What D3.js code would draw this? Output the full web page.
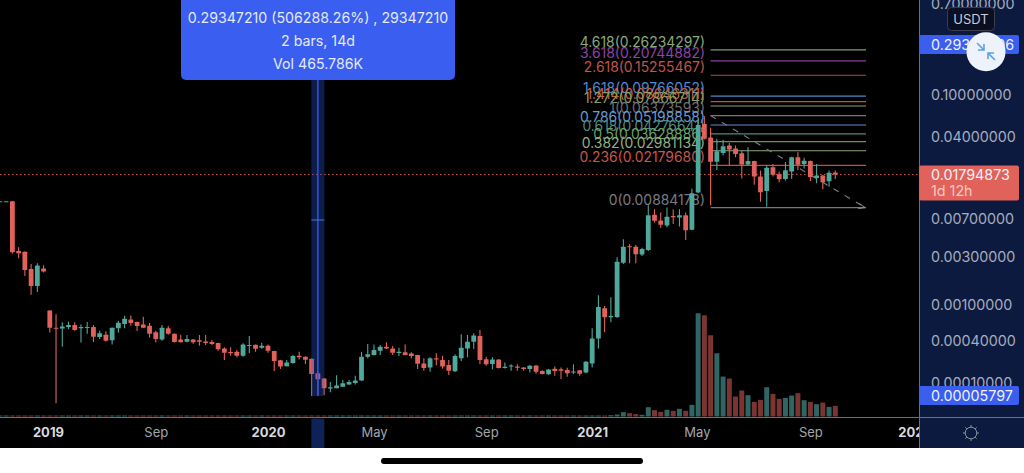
<!DOCTYPE html>
<html><head><meta charset="utf-8">
<style>html,body{margin:0;padding:0;background:#fff;overflow:hidden}svg{display:block}text{font-family:Inter,"Noto Sans",sans-serif}</style>
<script src="https://cdn.jsdelivr.net/npm/d3@7/dist/d3.min.js"></script></head><body>
<svg id="c" width="1024" height="473"></svg>
<script>
// Prices in units of 1e-4 USDT; first candle is bar index -2
const firstBar = -2, priceUnit = 1e-4;
const opens = [101,101,
101,33.9,33.4,22.6,15.4,22.8,8.7,5.6,5.5,5.72,
6.0,5.55,5.6,5.72,4.44,4.7,4.08,5.55,6.17,6.9,
6.5,6.1,5.9,5.0,4.15,5.55,4.8,4.15,3.9,4.15,
4.08,3.95,3.87,3.74,3.13,2.78,2.8,2.46,3.4,3.53,
3.2,3.43,2.87,2.12,1.74,1.93,2.46,2.38,2.23,1.38,
1.16,.78,.79,.845,.93,1.0,1.09,2.38,2.52,2.9,
3.3,3.13,2.69,2.75,2.64,2.52,1.9,1.67,2.26,2.14,
1.81,1.47,2.26,3.13,3.9,4.55,2.19,1.87,2.17,1.64,
1.72,1.72,1.67,1.59,1.78,1.49,1.33,1.6,1.57,1.54,
1.41,1.52,1.41,1.9,4.27,9.2,7.3,7.35,26,37.8,
37.3,31.3,34.7,76,67,59.8,73.7,71.5,75,54.5,
122,530,395,235,284,334,313,282,222,240,
172,126,210,180,163,191,260,225,240,166,
176,155,187];
const closes = [101.3,101.3,
32.9,32.2,22.1,15.4,24.4,21.3,5.62,5.5,5.77,6.02,
5.3,5.7,5.72,4.47,4.87,4.03,5.62,6.37,7.05,6.33,
5.87,5.62,4.8,4.22,5.6,4.8,3.87,3.83,4.22,3.83,
3.9,3.74,3.62,3.05,2.71,2.67,2.46,3.57,3.5,3.1,
3.43,2.9,2.07,1.72,1.96,2.44,2.33,2.16,1.35,1.13,
.79,.825,.89,.985,1.03,1.09,2.38,2.58,2.97,3.3,
3.13,2.71,2.8,2.52,2.44,1.89,1.64,2.26,2.17,1.72,
1.5,2.44,3.2,3.9,4.6,2.14,1.85,2.17,1.64,1.71,
1.78,1.65,1.59,1.76,1.45,1.35,1.56,1.49,1.5,1.38,
1.46,1.36,2.01,4.27,9.5,7.3,7.55,26.7,37.3,37,
31.6,35.5,75,66.5,60.8,72.5,72,75,54,120,
520,385,235,295,328,306,278,222,240,172,
123,207,178,162,196,260,221,241,170,176,
152,186,179.5];
const highs = [101.5,101.5,
101,36.8,33.6,25.3,25.7,24.6,8.75,7.9,6.45,6.55,
6.45,6.1,6.5,6.0,5.2,5.13,5.65,6.7,7.6,7.65,
6.55,7.4,6.33,5.2,6.0,5.87,4.85,4.7,4.67,4.2,
4.67,4.67,4.1,3.78,3.25,3.25,2.97,3.7,4.55,3.55,
3.78,3.57,2.9,2.15,2.14,2.52,2.8,2.42,2.25,1.49,
1.17,1.03,1.29,1.1,1.1,1.27,2.8,3.62,3.57,3.5,
3.83,3.4,3.2,3.57,2.75,2.55,2.26,2.33,2.67,2.46,
2.14,2.58,4.75,4.67,4.87,5.3,2.38,2.33,2.19,1.96,
1.85,1.85,1.68,1.81,1.8,1.52,1.58,1.72,1.67,1.65,
1.85,1.53,2.07,5.53,12.5,9.75,11.9,29.5,44,39.7,
38.8,36.5,93,85.5,79.5,88.5,85,85.5,79.5,132,
580,630,485,385,378,352,334,300,322,241,
195,217,225,191,234,262,289,256,242,225,
177,195,195];
const lows = [100.8,100.8,
32,28.8,19.3,12.6,13.4,20.9,4.98,.397,3.3,5.4,
5.2,3.8,4.8,3.87,4.22,3.95,3.55,4.95,5.55,5.9,
5.17,5.6,4.37,3.8,4.03,4.7,3.8,3.8,3.85,3.65,
3.43,3.5,3.5,2.9,2.14,2.46,2.33,2.38,2.67,2.8,
3.1,2.71,1.49,1.59,1.72,1.89,2.17,1.87,.553,.58,
.58,.655,.785,.835,.91,.93,1.07,2.26,2.47,2.52,
3.07,2.52,2.44,2.5,2.26,1.59,1.5,1.45,1.79,1.6,
1.3,1.44,2.07,2.33,3.07,1.85,1.76,1.57,1.62,1.61,
1.5,1.5,1.5,1.41,1.36,1.33,1.31,1.27,1.14,1.23,
1.35,1.27,1.38,1.67,3.13,5.0,6.45,7.2,25.3,25.8,
25.8,30.4,33.9,64,56.5,57.6,62,58.5,43.4,54,
120,380,93,197,269,217,260,165,217,144,
100,90,172,151,158,163,197,204,156,149,
131,138,163];
// Volume, arbitrary units (early bars barely register)
const volumes = [3,3,
3,3,3,3,3,3,3,3,3,3,
3,3,3,3,3,3,3,3,3,3,
3,3,3,3,3,3,3,3,3,3,
3,3,3,3,3,3,3,3,3,3,
3,3,3,3,3,3,3,3,3,3,
3,3,3,3,3,3,3,3,3,3,
3,3,3,3,3,3,3,3,3,3,
3,3,3,3,3,3,3,3,3,3,
3,3,3,3,3,3,3,3,3,3,
3,3,3,3,3,3,4,6,13,10,
7,5,28,19,14,20,17,23,17,35,
310,304,244,190,120,114,60,78,64,44,
50,88,68,53,56,63,70,49,44,37,
42,29,32];
const selectedBar = 49;
const fibRatios = ["4.618","3.618","2.618","1.618","1.414","1.272","1","0.786","0.618","0.5","0.382","0.236","0"];
const fibPrices = ["0.26234297","0.20744882","0.15255467","0.09766052","0.08646311","0.07866714","0.06373593","0.05198858","0.04276641","0.03628886","0.02981134","0.02179680","0.00884178"];
const fibColors = ["#7f9e72","#8b3fa5","#b8473f","#4f86c9","#b9533f","#8a9f6b","#75777c","#5a90d2","#4b8c7d","#5f9a5e","#88a97a","#c24e47","#75777c"];
const fibLabelColors = ["#8aa87c","#8d45a8","#c4544c","#4f8ad0","#c25e48","#8f9f60","#6d6f75","#6a9ad8","#4e8d80","#6da168","#93b186","#c9564f","#7a7c82"];
const fibStartBar = 112, fibEndBar = 136.8, fibTop = 0.06373593, fibBottom = 0.00884178;
const priceTicks = [0.7,0.1,0.04,0.007,0.003,0.001,0.0004,0.0001];
const currentPrice = 0.01794873, rangeTopPrice = 0.29347206, rangeBottomPrice = 0.00005797;
const timeTickBars = [5.7,23,41,58,76,93,109.8,128,144.7];
const timeTickLabels = ["2019","Sep","2020","May","Sep","2021","May","Sep","2022"];
const boldLabels = ["2019","2020","2021","2022"];

const svg = d3.select("#c");
const plotRight = 919, axisY = 417.5, bottomY = 448;
const x = d3.scaleLinear().domain([0,132]).range([12.4,835.3]);
const y = d3.scaleLog()
  .domain([0.7,0.1,0.04,0.007,0.003,0.001,0.0004,0.0001,0.00005797])
  .range([4,95,137,218.5,256.5,305,341,383,395]);
const v = d3.scaleLinear().domain([0,310]).range([416.5,313.3]);
const RED="#e0625b", GREEN="#50a79b", VRED="#7a3533", VGREEN="#2f6562";

svg.append("rect").attr("width",1024).attr("height",bottomY).attr("fill","#000");
svg.append("rect").attr("x",plotRight).attr("width",1024-plotRight).attr("height",bottomY).attr("fill","#0d1a40");
svg.append("defs").append("clipPath").attr("id","plot").append("rect").attr("width",plotRight).attr("height",bottomY);

const plot = svg.append("g").attr("clip-path","url(#plot)");
const bars = d3.range(opens.length).map(k=>({i:k+firstBar,o:opens[k]*priceUnit,c:closes[k]*priceUnit,h:highs[k]*priceUnit,l:lows[k]*priceUnit,vol:volumes[k]}));

// volume
plot.append("g").selectAll("rect").data(bars).join("rect")
  .attr("x",d=>x(d.i)-2.5).attr("width",5)
  .attr("y",d=>v(d.vol)).attr("height",d=>v(0)-v(d.vol))
  .attr("fill",d=>d.c>=d.o?VGREEN:VRED);

// current price line
plot.append("line").attr("x1",0).attr("x2",plotRight).attr("y1",y(currentPrice)).attr("y2",y(currentPrice))
  .attr("stroke","#c4564f").attr("stroke-width",1).attr("stroke-dasharray","1.5 2.5");

// fib levels
const fib = plot.append("g");
fibRatios.forEach((r,k)=>{
  const py = y(+fibPrices[k]);
  fib.append("line").attr("x1",x(fibStartBar)).attr("x2",866).attr("y1",py).attr("y2",py)
    .attr("stroke",fibColors[k]).attr("stroke-width",1.2);
  fib.append("text").attr("x",705).attr("y",py-8).attr("dy","0.36em").attr("text-anchor","end")
    .attr("font-size",13.9).attr("fill",fibLabelColors[k]).text(`${r}(${fibPrices[k]})`);
});
fib.append("line").attr("x1",x(fibStartBar)).attr("x2",x(fibStartBar)).attr("y1",y(fibTop)+12).attr("y2",y(fibBottom)-3)
  .attr("stroke","#b8473f").attr("stroke-width",1);
fib.append("line").attr("x1",x(fibStartBar)).attr("y1",y(fibTop)).attr("x2",x(fibEndBar)).attr("y2",y(fibBottom))
  .attr("stroke","#7d8087").attr("stroke-width",1.1).attr("stroke-dasharray","6 7");
fib.append("path").attr("d",`M${x(fibEndBar)-6},${y(fibBottom)-4}L${x(fibEndBar)},${y(fibBottom)}L${x(fibEndBar)-7},${y(fibBottom)+1}`)
  .attr("fill","none").attr("stroke","#8c8f96").attr("stroke-width",1);

// candles
const candles = plot.append("g");
candles.selectAll("line").data(bars).join("line")
  .attr("x1",d=>x(d.i)).attr("x2",d=>x(d.i)).attr("y1",d=>y(d.h)).attr("y2",d=>y(d.l))
  .attr("stroke",d=>d.c>=d.o?GREEN:RED).attr("stroke-width",1.1);
candles.selectAll("rect").data(bars).join("rect")
  .attr("x",d=>x(d.i)-2.4).attr("width",4.8)
  .attr("y",d=>Math.min(y(d.o),y(d.c))).attr("height",d=>Math.max(1,Math.abs(y(d.o)-y(d.c))))
  .attr("rx",0.5)
  .attr("fill",d=>d.c>=d.o?GREEN:RED);

// selected range column
const hx = x(selectedBar);
svg.append("rect").attr("x",hx-6.5).attr("width",13).attr("y",80).attr("height",y(rangeBottomPrice)+1-80).attr("fill","rgba(38,88,225,0.34)");
svg.append("rect").attr("x",hx-6.5).attr("width",13).attr("y",axisY+1).attr("height",bottomY-axisY-1).attr("fill","#0e2257");
svg.append("line").attr("x1",hx).attr("x2",hx).attr("y1",80).attr("y2",y(rangeBottomPrice)+1).attr("stroke","#2f55d8").attr("stroke-width",1.5);
svg.append("line").attr("x1",hx-6.5).attr("x2",hx+6.5).attr("y1",220).attr("y2",220).attr("stroke","#4d70e0").attr("stroke-width",1);

// axes lines
svg.append("line").attr("x1",0).attr("x2",1024).attr("y1",axisY).attr("y2",axisY).attr("stroke","#6d6f74").attr("stroke-width",1);
svg.append("line").attr("x1",plotRight+0.5).attr("x2",plotRight+0.5).attr("y1",0).attr("y2",bottomY).attr("stroke","#6d6f74").attr("stroke-width",1);

// time axis
const tAxis = svg.append("g").attr("transform",`translate(0,${axisY})`).attr("clip-path","url(#plotAxis)")
  .call(d3.axisBottom(x).tickValues(timeTickBars).tickSize(0).tickPadding(10)
    .tickFormat((d,k)=>timeTickLabels[k]));
svg.select("defs").append("clipPath").attr("id","plotAxis").append("rect").attr("x",0).attr("y",0).attr("width",plotRight).attr("height",40);
tAxis.select(".domain").remove();
tAxis.selectAll("text").attr("font-family","Inter").attr("font-size",13)
  .attr("fill",(d,k)=>boldLabels.includes(timeTickLabels[k])?"#d8dade":"#a3a6ad")
  .attr("font-weight",(d,k)=>boldLabels.includes(timeTickLabels[k])?700:400);

// price axis
const pAxis = svg.append("g").attr("transform",`translate(${plotRight},0)`)
  .call(d3.axisRight(y).tickValues(priceTicks).tickSize(0).tickPadding(12).tickFormat(d3.format(".8f")));
pAxis.select(".domain").remove();
pAxis.selectAll("text").attr("font-family","Inter").attr("font-size",14.3).attr("fill","#a7adbd");

// USDT box
svg.append("rect").attr("x",947.5).attr("y",7.5).attr("width",47).attr("height",23).attr("rx",4).attr("fill","#0a0f24").attr("stroke","#3b3f4c");
svg.append("text").attr("x",971).attr("y",19.5).attr("dy","0.36em").attr("text-anchor","middle").attr("font-size",13).attr("fill","#c9ccd4").text("USDT");

// price labels
function tag(price,h,fill,lines,yc){
  svg.append("rect").attr("x",plotRight).attr("y",yc-h/2).attr("width",100).attr("height",h).attr("rx",2).attr("fill",fill);
  lines.forEach((t,k)=>svg.append("text").attr("x",931).attr("y",yc-(lines.length-1)*8+k*16).attr("dy","0.36em")
    .attr("font-size",14.3).attr("fill",k?"#f7c9c5":"#f0f2f8").text(t));
}
tag(rangeTopPrice,19,"#3a5ef0",[d3.format(".8f")(rangeTopPrice)],44.5);
tag(currentPrice,35,"#e0625b",[d3.format(".8f")(currentPrice),"1d 12h"],183);
tag(rangeBottomPrice,19,"#3a5ef0",[d3.format(".8f")(rangeBottomPrice)],395.5);

// collapse button
svg.append("circle").attr("cx",986).attr("cy",51.7).attr("r",19.5).attr("fill","#eef2fa");
svg.append("path").attr("d","M977,43L984,50M984,44V50H978M995,60L988,53M988,59V53H994")
  .attr("fill","none").attr("stroke","#5f9fe8").attr("stroke-width",1.6);

// gear
const gear = svg.append("g").attr("transform","translate(971,433)").attr("stroke","#8d9099").attr("fill","none").attr("stroke-width",1);
gear.append("circle").attr("r",5.8);
d3.range(8).forEach(k=>{const a=k*Math.PI/4;gear.append("line").attr("x1",5.8*Math.cos(a)).attr("y1",5.8*Math.sin(a)).attr("x2",8*Math.cos(a)).attr("y2",8*Math.sin(a));});

// tooltip
svg.append("rect").attr("x",181).attr("y",-6).attr("width",274).attr("height",86).attr("rx",5).attr("fill","#3a5ef0");
["0.29347210 (506288.26%) , 29347210","2 bars, 14d","Vol 465.786K"].forEach((t,k)=>
  svg.append("text").attr("x",318).attr("y",18+k*23).attr("dy","0.36em").attr("text-anchor","middle")
    .attr("font-size",14.2).attr("fill","#e4e9fb").text(t));

// home indicator
svg.append("rect").attr("x",381).attr("y",458).attr("width",262).attr("height",6).attr("rx",3).attr("fill","#000");
</script></body></html>
